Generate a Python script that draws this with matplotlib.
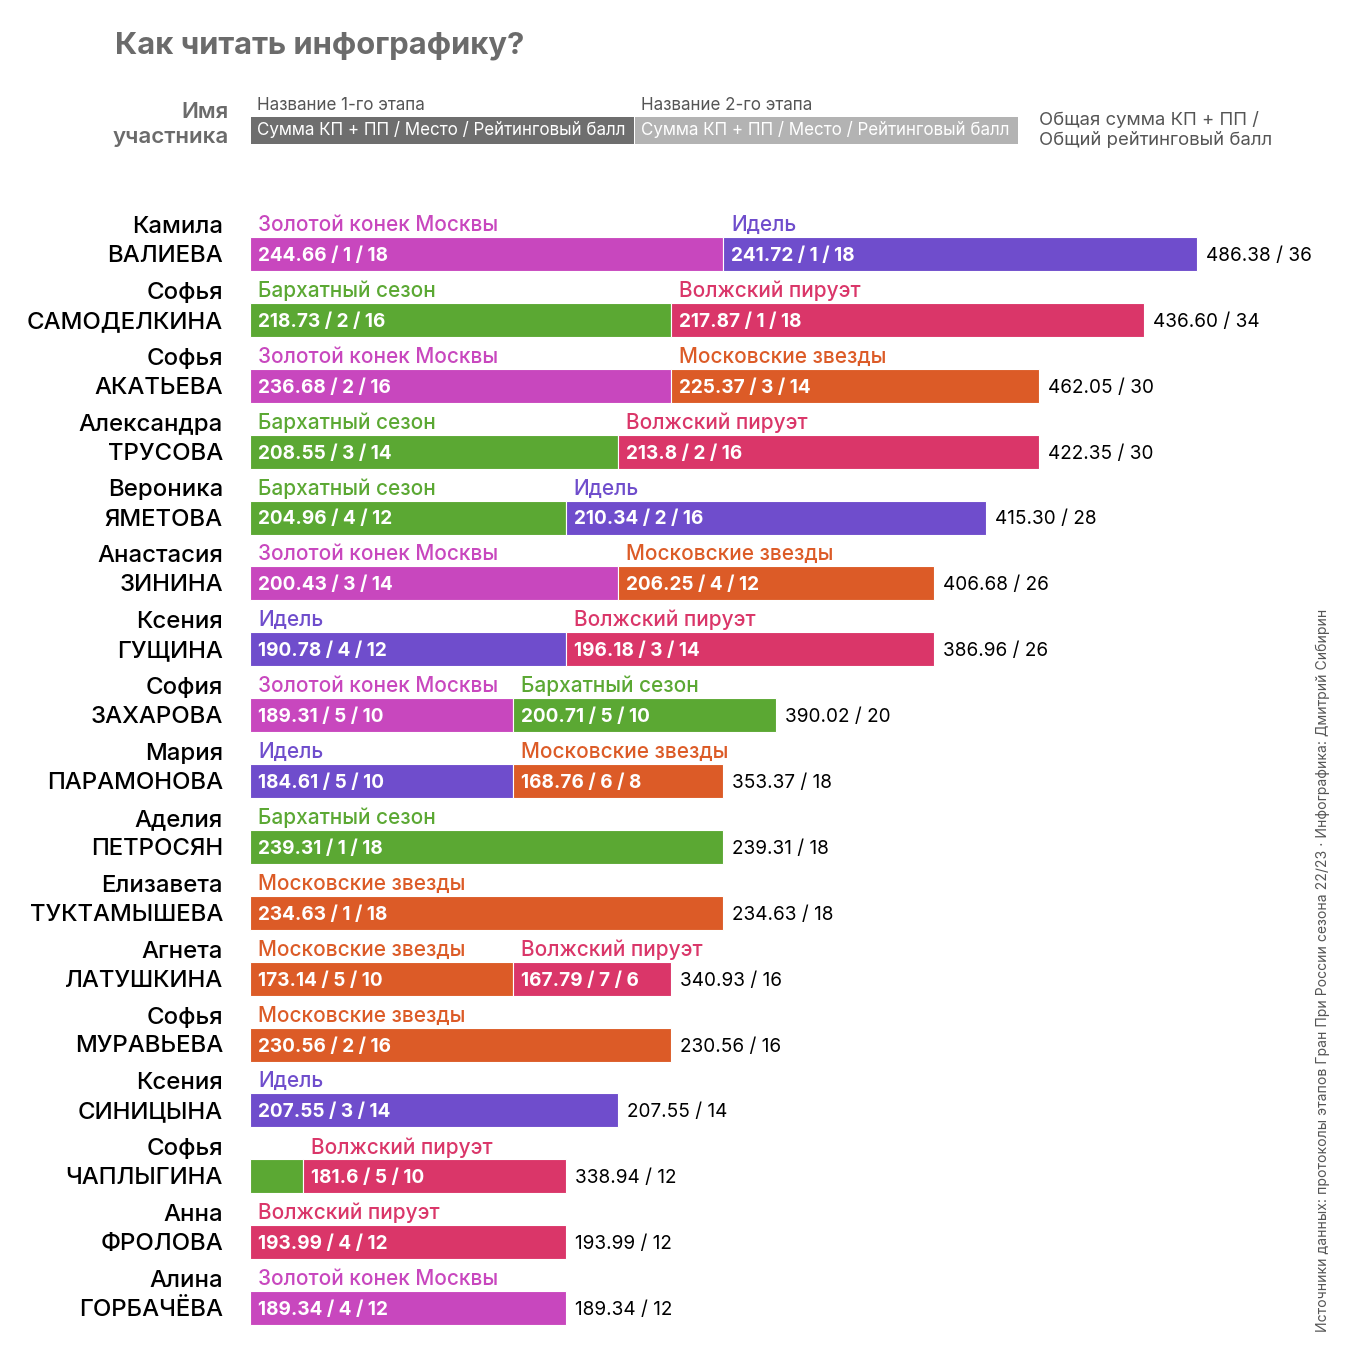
import matplotlib
matplotlib.use("Agg")
import matplotlib.pyplot as plt
from matplotlib.patches import Rectangle

plt.rcParams['font.family'] = ['Inter', 'DejaVu Sans']

# ---- data ----
first_names = ["Камила", "Софья", "Софья", "Александра", "Вероника", "Анастасия",
               "Ксения", "София", "Мария", "Аделия", "Елизавета", "Агнета",
               "Софья", "Ксения", "Софья", "Анна", "Алина"]
last_names = ["ВАЛИЕВА", "САМОДЕЛКИНА", "АКАТЬЕВА", "ТРУСОВА", "ЯМЕТОВА", "ЗИНИНА",
              "ГУЩИНА", "ЗАХАРОВА", "ПАРАМОНОВА", "ПЕТРОСЯН", "ТУКТАМЫШЕВА", "ЛАТУШКИНА",
              "МУРАВЬЕВА", "СИНИЦЫНА", "ЧАПЛЫГИНА", "ФРОЛОВА", "ГОРБАЧЁВА"]

stage1_names = ["Золотой конек Москвы", "Бархатный сезон", "Золотой конек Москвы",
                "Бархатный сезон", "Бархатный сезон", "Золотой конек Москвы", "Идель",
                "Золотой конек Москвы", "Идель", "Бархатный сезон", "Московские звезды",
                "Московские звезды", "Московские звезды", "Идель", "Бархатный сезон",
                "Волжский пируэт", "Золотой конек Москвы"]
stage1_scores = [244.66, 218.73, 236.68, 208.55, 204.96, 200.43, 190.78, 189.31, 184.61,
                 239.31, 234.63, 173.14, 230.56, 207.55, 157.34, 193.99, 189.34]
stage1_places = [1, 2, 2, 3, 4, 3, 4, 5, 5, 1, 1, 5, 2, 3, None, 4, 4]
stage1_points = [18, 16, 16, 14, 12, 14, 12, 10, 10, 18, 18, 10, 16, 14, 2, 12, 12]

stage2_names = ["Идель", "Волжский пируэт", "Московские звезды", "Волжский пируэт", "Идель",
                "Московские звезды", "Волжский пируэт", "Бархатный сезон", "Московские звезды",
                None, None, "Волжский пируэт", None, None, "Волжский пируэт", None, None]
stage2_scores = [241.72, 217.87, 225.37, 213.8, 210.34, 206.25, 196.18, 200.71, 168.76,
                 None, None, 167.79, None, None, 181.6, None, None]
stage2_places = [1, 1, 3, 2, 2, 4, 3, 5, 6, None, None, 7, None, None, 5, None, None]
stage2_points = [18, 18, 14, 16, 16, 12, 14, 10, 8, 0, 0, 6, 0, 0, 10, 0, 0]

total_scores = [486.38, 436.60, 462.05, 422.35, 415.30, 406.68, 386.96, 390.02, 353.37,
                239.31, 234.63, 340.93, 230.56, 207.55, 338.94, 193.99, 189.34]
total_points = [36, 34, 30, 30, 28, 26, 26, 20, 18, 18, 18, 16, 16, 14, 12, 12, 12]

stage_colors = {
    "Золотой конек Москвы": "#c847be",
    "Идель": "#6f4dcc",
    "Бархатный сезон": "#5ba833",
    "Волжский пируэт": "#da3669",
    "Московские звезды": "#dc5b27",
}

W, H = 1356, 1361
PX = 26.3      # pixels per rating point
ROW = 65.875   # pixels per row
X0, Y0 = 250, 254
TOP, BOT = 195, 1345


def fx(p):
    return p / W


def fy(p):
    return 1 - p / H


def pt(px):
    return px * 0.72


fig = plt.figure(figsize=(W / 100, H / 100), dpi=100)
fig.patch.set_facecolor("white")

ax = fig.add_axes([fx(X0), fy(BOT), 1050 / W, (BOT - TOP) / H])
ax.set_xlim(0, 1050 / PX)
ax.set_ylim((BOT - Y0) / ROW, (TOP - Y0) / ROW)
ax.axis("off")

bar_h = 34 / ROW
txt_dy = 2 / ROW       # small nudge, text sits a bit low in the original
lab_dy = -29 / ROW
name_dy = -27 / ROW
name_fs = pt(24)
stage_fs = pt(20.8)
val_fs = pt(19)


def fmt(score, place, points):
    return f"{score} / {place} / {points}"


for i in range(len(last_names)):
    segs = [(stage1_names[i], stage1_scores[i], stage1_places[i], stage1_points[i], 0)]
    if stage2_names[i] is not None:
        segs.append((stage2_names[i], stage2_scores[i], stage2_places[i],
                     stage2_points[i], stage1_points[i]))
    for name, score, place, points, left in segs:
        c = stage_colors[name]
        ax.barh(i, points, left=left, height=bar_h, color=c,
                edgecolor="#ffffff", linewidth=0.8)
        if place is None:
            continue
        ax.annotate(name, xy=(left, i + lab_dy), xytext=(pt(8), 0),
                    textcoords="offset points", va="center", ha="left",
                    fontsize=stage_fs, color=c, fontweight="medium")
        ax.annotate(fmt(score, place, points), xy=(left, i + txt_dy), xytext=(pt(8), 0),
                    textcoords="offset points", va="center", ha="left",
                    fontsize=val_fs, color="white", fontweight="bold")
    end = stage1_points[i] + stage2_points[i]
    ax.annotate(f"{total_scores[i]:.2f} / {total_points[i]}", xy=(end, i + txt_dy),
                xytext=(pt(9), 0), textcoords="offset points", va="center",
                ha="left", fontsize=val_fs, color="black")
    ax.annotate(first_names[i], xy=(0, i + name_dy), xytext=(pt(-27), 0),
                textcoords="offset points", va="center", ha="right",
                fontsize=name_fs, color="black", fontweight="medium")
    ax.annotate(last_names[i], xy=(0, i + txt_dy), xytext=(pt(-27), 0),
                textcoords="offset points", va="center", ha="right",
                fontsize=name_fs, color="black", fontweight="medium")

# ---- header / legend ----
fig.text(fx(115), fy(46), "Как читать инфографику?", fontsize=pt(31),
         fontweight="bold", color="#6b6b6b", va="center", ha="left")
fig.text(fx(229), fy(112), "Имя", fontsize=pt(22.3), fontweight="semibold",
         color="#6b6b6b", va="center", ha="right")
fig.text(fx(229), fy(137), "участника", fontsize=pt(22.3), fontweight="semibold",
         color="#6b6b6b", va="center", ha="right")

legend_boxes = [(251, 634, "#6e6e6e", "Название 1-го этапа"),
                (635, 1018, "#b3b3b3", "Название 2-го этапа")]
for x1, x2, col, title in legend_boxes:
    fig.patches.append(Rectangle((fx(x1), fy(144)), fx(x2 - x1), 27 / H,
                                 transform=fig.transFigure, facecolor=col,
                                 edgecolor="none"))
    fig.text(fx(x1 + 6), fy(131), "Сумма КП + ПП / Место / Рейтинговый балл",
             fontsize=pt(17), color="white", va="center", ha="left")
    fig.text(fx(x1 + 6), fy(106), title, fontsize=pt(17), color="#555555",
             va="center", ha="left")

fig.text(fx(1039), fy(120), "Общая сумма КП + ПП /", fontsize=pt(18.5),
         color="#555555", va="center", ha="left")
fig.text(fx(1039), fy(141), "Общий рейтинговый балл", fontsize=pt(18.5),
         color="#555555", va="center", ha="left")

fig.text(fx(1323), fy(1332),
         "Источники данных: протоколы этапов Гран При России сезона 22/23 · "
         "Инфографика: Дмитрий Сибирин",
         rotation=90, fontsize=pt(14), color="#555555", va="bottom", ha="center")

fig.savefig("out.png", dpi=100, facecolor="white")
